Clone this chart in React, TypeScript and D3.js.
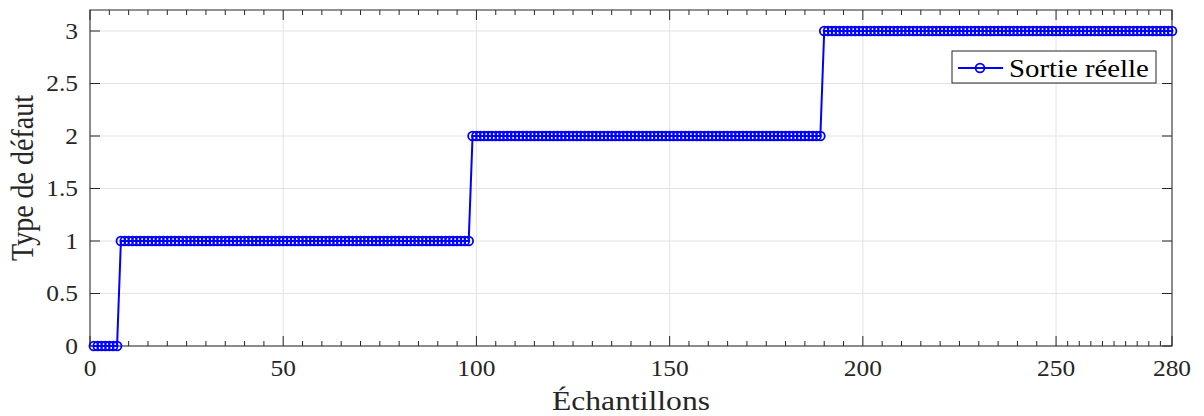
import React from 'react';
import * as d3 from 'd3';

// step output, as runs of samples at each fault level
const runStart = [1, 8, 99, 190];
const runEnd = [7, 98, 189, 280];
const runLevel = [0, 1, 2, 3];

const xTicks = [0, 50, 100, 150, 200, 250, 280];
const yTicks = [0, 0.5, 1, 1.5, 2, 2.5, 3];

const seriesName = 'Sortie réelle';
const xLabel = 'Échantillons';
const yLabel = 'Type de défaut';

const W = 1204;
const H = 416;
const left = 90;
const right = 1172;
const top = 10;
const bottom = 346;
const SX = 1.13; // the original figure is stretched horizontally
const font = '"Liberation Serif", "Times New Roman", serif';
const axisColor = '#262626';
const blue = '#0000ff';

function App() {
  const samples = runLevel.flatMap((lvl, i) =>
    d3.range(runStart[i], runEnd[i] + 1).map(s => ({ s, v: lvl }))
  );

  const x = d3.scaleLinear().domain([0, 280]).range([left, right]);
  const y = d3.scaleLinear().domain([0, 3.2]).range([bottom, top]);

  const minorX: number[] = [];
  for (let i = 0; i < xTicks.length - 1; i++) {
    const a = xTicks[i];
    const b = xTicks[i + 1];
    for (let k = 1; k < 10; k++) minorX.push(a + ((b - a) * k) / 10);
  }

  const path = d3
    .line<{ s: number; v: number }>()
    .x(d => x(d.s))
    .y(d => y(d.v))(samples);

  const txt = (tx: number, ty: number) => `translate(${tx},${ty}) scale(${SX},1)`;

  return (
    <svg
      width={W}
      height={H}
      style={{ position: 'absolute', left: 0, top: 0, background: '#fff' }}
      fontFamily={font}
    >
      <rect x={left} y={top} width={right - left} height={bottom - top} fill="#fff" />

      {/* grid */}
      {xTicks.map(t => (
        <line key={'gx' + t} x1={x(t)} x2={x(t)} y1={top} y2={bottom} stroke="#e3e3e3" strokeWidth={1} />
      ))}
      {yTicks.map(t => (
        <line key={'gy' + t} x1={left} x2={right} y1={y(t)} y2={y(t)} stroke="#e3e3e3" strokeWidth={1} />
      ))}

      {/* ticks, inward on all four sides */}
      {xTicks.map(t => (
        <g key={'tx' + t} stroke={axisColor} strokeWidth={1}>
          <line x1={x(t)} x2={x(t)} y1={bottom} y2={bottom - 10} />
          <line x1={x(t)} x2={x(t)} y1={top} y2={top + 10} />
        </g>
      ))}
      {minorX.map(t => (
        <g key={'mx' + t} stroke={axisColor} strokeWidth={1}>
          <line x1={x(t)} x2={x(t)} y1={bottom} y2={bottom - 5} />
          <line x1={x(t)} x2={x(t)} y1={top} y2={top + 5} />
        </g>
      ))}
      {yTicks.map(t => (
        <g key={'ty' + t} stroke={axisColor} strokeWidth={1}>
          <line x1={left} x2={left + 10} y1={y(t)} y2={y(t)} />
          <line x1={right} x2={right - 10} y1={y(t)} y2={y(t)} />
        </g>
      ))}

      <rect
        x={left}
        y={top}
        width={right - left}
        height={bottom - top}
        fill="none"
        stroke={axisColor}
        strokeWidth={1}
      />

      {/* tick labels */}
      {xTicks.map(t => (
        <text key={'lx' + t} transform={txt(x(t), 376)} textAnchor="middle" fontSize={22.5} fill={axisColor}>
          {t}
        </text>
      ))}
      {yTicks.map(t => (
        <text key={'ly' + t} transform={txt(78, y(t) + 7.5)} textAnchor="end" fontSize={22.5} fill={axisColor}>
          {t}
        </text>
      ))}

      {/* axis labels */}
      <text transform={txt((left + right) / 2, 410)} textAnchor="middle" fontSize={28} fill={axisColor}>
        {xLabel}
      </text>
      <text
        transform={`translate(33,${(top + bottom) / 2}) scale(${SX},1) rotate(-90)`}
        textAnchor="middle"
        fontSize={28}
        fill={axisColor}
      >
        {yLabel}
      </text>

      {/* series */}
      <path d={path ?? ''} fill="none" stroke={blue} strokeWidth={2} />
      {samples.map(d => (
        <circle key={'p' + d.s} cx={x(d.s)} cy={y(d.v)} r={4.4} fill="none" stroke={blue} strokeWidth={1.8} />
      ))}

      {/* legend */}
      <g>
        <rect x={952} y={51} width={204} height={32} fill="#fff" stroke={axisColor} strokeWidth={1} />
        <line x1={958} x2={1003} y1={68} y2={68} stroke={blue} strokeWidth={2} />
        <circle cx={980} cy={68} r={4.4} fill="none" stroke={blue} strokeWidth={1.8} />
        <text transform={txt(1009, 76.5)} fontSize={25.5} fill="#000">
          {seriesName}
        </text>
      </g>
    </svg>
  );
}

export default App;
